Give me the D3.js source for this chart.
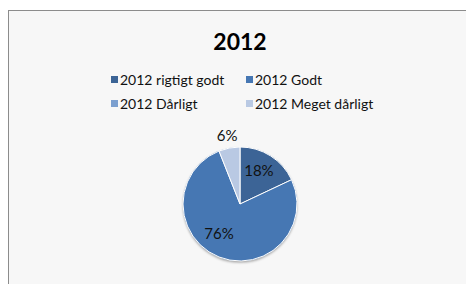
<!DOCTYPE html>
<html>
<head>
<meta charset="utf-8">
<script src="https://cdn.jsdelivr.net/npm/d3@7"></script>
<style>
  body { margin: 0; background: #fff; }
  svg { display: block; font-family: Lato, "Open Sans", sans-serif; }
</style>
</head>
<body>
<div id="chart"></div>
<script>
const title = "2012";
const categories = ["2012 rigtigt godt", "2012 Godt", "2012 Dårligt", "2012 Meget dårligt"];
const values = [18, 76, 0, 6];
const colors = ["#3c6496", "#4677b3", "#7b9fcf", "#b9c9e3"];

const width = 466, height = 284;
const svg = d3.select("#chart").append("svg")
    .attr("width", width)
    .attr("height", height);

// chart area frame
svg.append("rect")
    .attr("x", 8.5).attr("y", 10.5)
    .attr("width", 470).attr("height", 290)
    .attr("fill", "#f7f7f7")
    .attr("stroke", "#8c8c8c");

svg.append("text")
    .attr("x", 240).attr("y", 50)
    .attr("text-anchor", "middle")
    .style("font-size", "23px")
    .style("font-weight", "bold")
    .attr("fill", "#000")
    .text(title);

// legend, 2 columns
const legendX = [111, 246], legendY = [80, 104];
const legend = svg.append("g");
categories.forEach(function(c, i) {
    const x = legendX[i % 2], y = legendY[Math.floor(i / 2)];
    legend.append("rect")
        .attr("x", x).attr("y", y - 4)
        .attr("width", 7).attr("height", 7)
        .attr("fill", colors[i]);
    legend.append("text")
        .attr("x", x + 9).attr("y", y + 5)
        .style("font-size", "14px")
        .attr("fill", "#111")
        .text(c);
});

// pie
const cx = 240, cy = 204, r = 57;
const pie = d3.pie().sort(null).value(d => d)(values);
const arc = d3.arc().innerRadius(0).outerRadius(r);

const defs = svg.append("defs");
const f = defs.append("filter").attr("id", "shadow")
    .attr("x", "-20%").attr("y", "-20%").attr("width", "140%").attr("height", "140%");
f.append("feDropShadow").attr("dx", 0).attr("dy", 1.5).attr("stdDeviation", 1.2)
    .attr("flood-color", "#000").attr("flood-opacity", 0.35);

const g = svg.append("g").attr("transform", "translate(" + cx + "," + cy + ")");
g.append("circle").attr("r", r).attr("fill", "#4677b3").attr("filter", "url(#shadow)");
g.selectAll("path")
    .data(pie.filter(d => d.value > 0))
    .enter().append("path")
    .attr("d", arc)
    .attr("fill", d => colors[d.index])
    .attr("stroke", "#fff")
    .attr("stroke-width", 1);

// data labels
const inner = d3.arc().innerRadius(r * 0.62).outerRadius(r * 0.62);
const outer = d3.arc().innerRadius(r + 12).outerRadius(r + 12);
g.selectAll("text.lbl")
    .data(pie.filter(d => d.value > 0))
    .enter().append("text")
    .attr("class", "lbl")
    .attr("transform", function(d) {
        const p = (d.value < 10 ? outer : inner).centroid(d);
        if (d.value > 50) { p[0] -= 8; p[1] -= 3; }
        if (d.value > 10 && d.value < 50) { p[1] -= 3; }
        return "translate(" + p + ")";
    })
    .attr("text-anchor", "middle")
    .attr("dy", "0.35em")
    .style("font-size", "15px")
    .attr("fill", "#111")
    .text(d => d.value + "%");
</script>
</body>
</html>
